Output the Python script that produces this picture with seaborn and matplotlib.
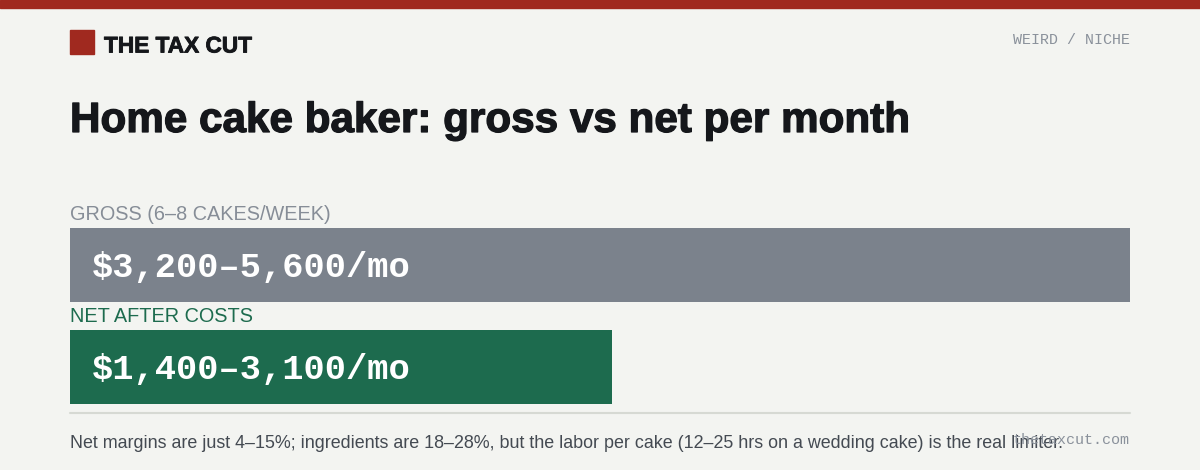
import matplotlib
matplotlib.use("Agg")
import matplotlib.pyplot as plt
import matplotlib.patheffects as pe
import seaborn as sns
import pandas as pd

# data
categories = ["GROSS (6–8 CAKES/WEEK)", "NET AFTER COSTS"]
low_values = [3200, 1400]
high_values = [5600, 3100]
bar_labels = ["$3,200–5,600/mo", "$1,400–3,100/mo"]
bar_colors = ["#7b828c", "#1d6b4e"]
label_colors = ["#868d97", "#1d6b4e"]

df = pd.DataFrame({"cat": categories, "low": low_values, "high": high_values})
df["mid"] = (df["low"] + df["high"]) / 2

sns.set_style("white")
plt.rcParams["font.family"] = ["Liberation Sans", "DejaVu Sans"]

W, H = 1200, 470
bg = "#f3f4f1"
ink = "#15171b"
fig = plt.figure(figsize=(12, 4.7), dpi=100, facecolor=bg)

def fx(px):
    return px / W

def fy(py):
    return 1 - py / H

# top red band
fig.patches.append(plt.Rectangle((0, fy(8)), 1, 8 / H, transform=fig.transFigure,
                                 color="#a0291f", zorder=5))
# logo square
fig.patches.append(plt.Rectangle((fx(70), fy(54)), 24 / W, 24 / H, transform=fig.transFigure,
                                 color="#a0291f"))
fig.text(fx(104), fy(46), "THE TAX CUT", fontsize=16.3, fontweight="bold",
         color=ink, va="center", ha="left",
         path_effects=[pe.withStroke(linewidth=0.6, foreground=ink)])
fig.text(fx(1130), fy(40), "WEIRD / NICHE", fontsize=10.8, family="Liberation Mono",
         color="#8a919b", va="center", ha="right")

fig.text(fx(70), fy(121), "Home cake baker: gross vs net per month", fontsize=30.4,
         fontweight="bold", color=ink, va="center", ha="left",
         path_effects=[pe.withStroke(linewidth=0.9, foreground=ink)])

# bars
bw = 0.725
ax = fig.add_axes([fx(70), fy(404), 1060 / W, 176 / H])
ax.set_facecolor(bg)
sns.barplot(data=df, y="cat", x="mid", hue="cat", palette=bar_colors, orient="h",
            width=bw, legend=False, ax=ax, saturation=1, linewidth=0)
ax.set_xlim(0, df["mid"].max())
ax.set_ylim(1 + bw / 2, -bw / 2)
ax.set_xlabel("")
ax.set_ylabel("")
ax.set_xticks([])
ax.set_yticks([])
for s in ax.spines.values():
    s.set_visible(False)

for i, (cat, lab) in enumerate(zip(categories, bar_labels)):
    ax.text(0, i - bw / 2 - 0.04, cat, fontsize=14.3, color=label_colors[i],
            va="bottom", ha="left", clip_on=False)
    ax.text(df["mid"].max() * 0.0207, i + 0.02, lab, fontsize=25.5, fontweight="bold",
            family="Liberation Mono", color="white", va="center", ha="left")

# separator
fig.add_artist(plt.Line2D([fx(70), fx(1130)], [fy(413), fy(413)], color="#d6d9d3", lw=1.5))

fig.text(fx(70), fy(443), "Net margins are just 4–15%; ingredients are 18–28%, but the labor per cake "
         "(12–25 hrs on a wedding cake) is the real limiter.", fontsize=12.9,
         color="#444a52", va="center", ha="left")
fig.text(fx(1130), fy(440), "thetaxcut.com", fontsize=10.8, family="Liberation Mono",
         color="#8a919b", va="center", ha="right")

fig.savefig("out.png", dpi=100, facecolor=bg)
